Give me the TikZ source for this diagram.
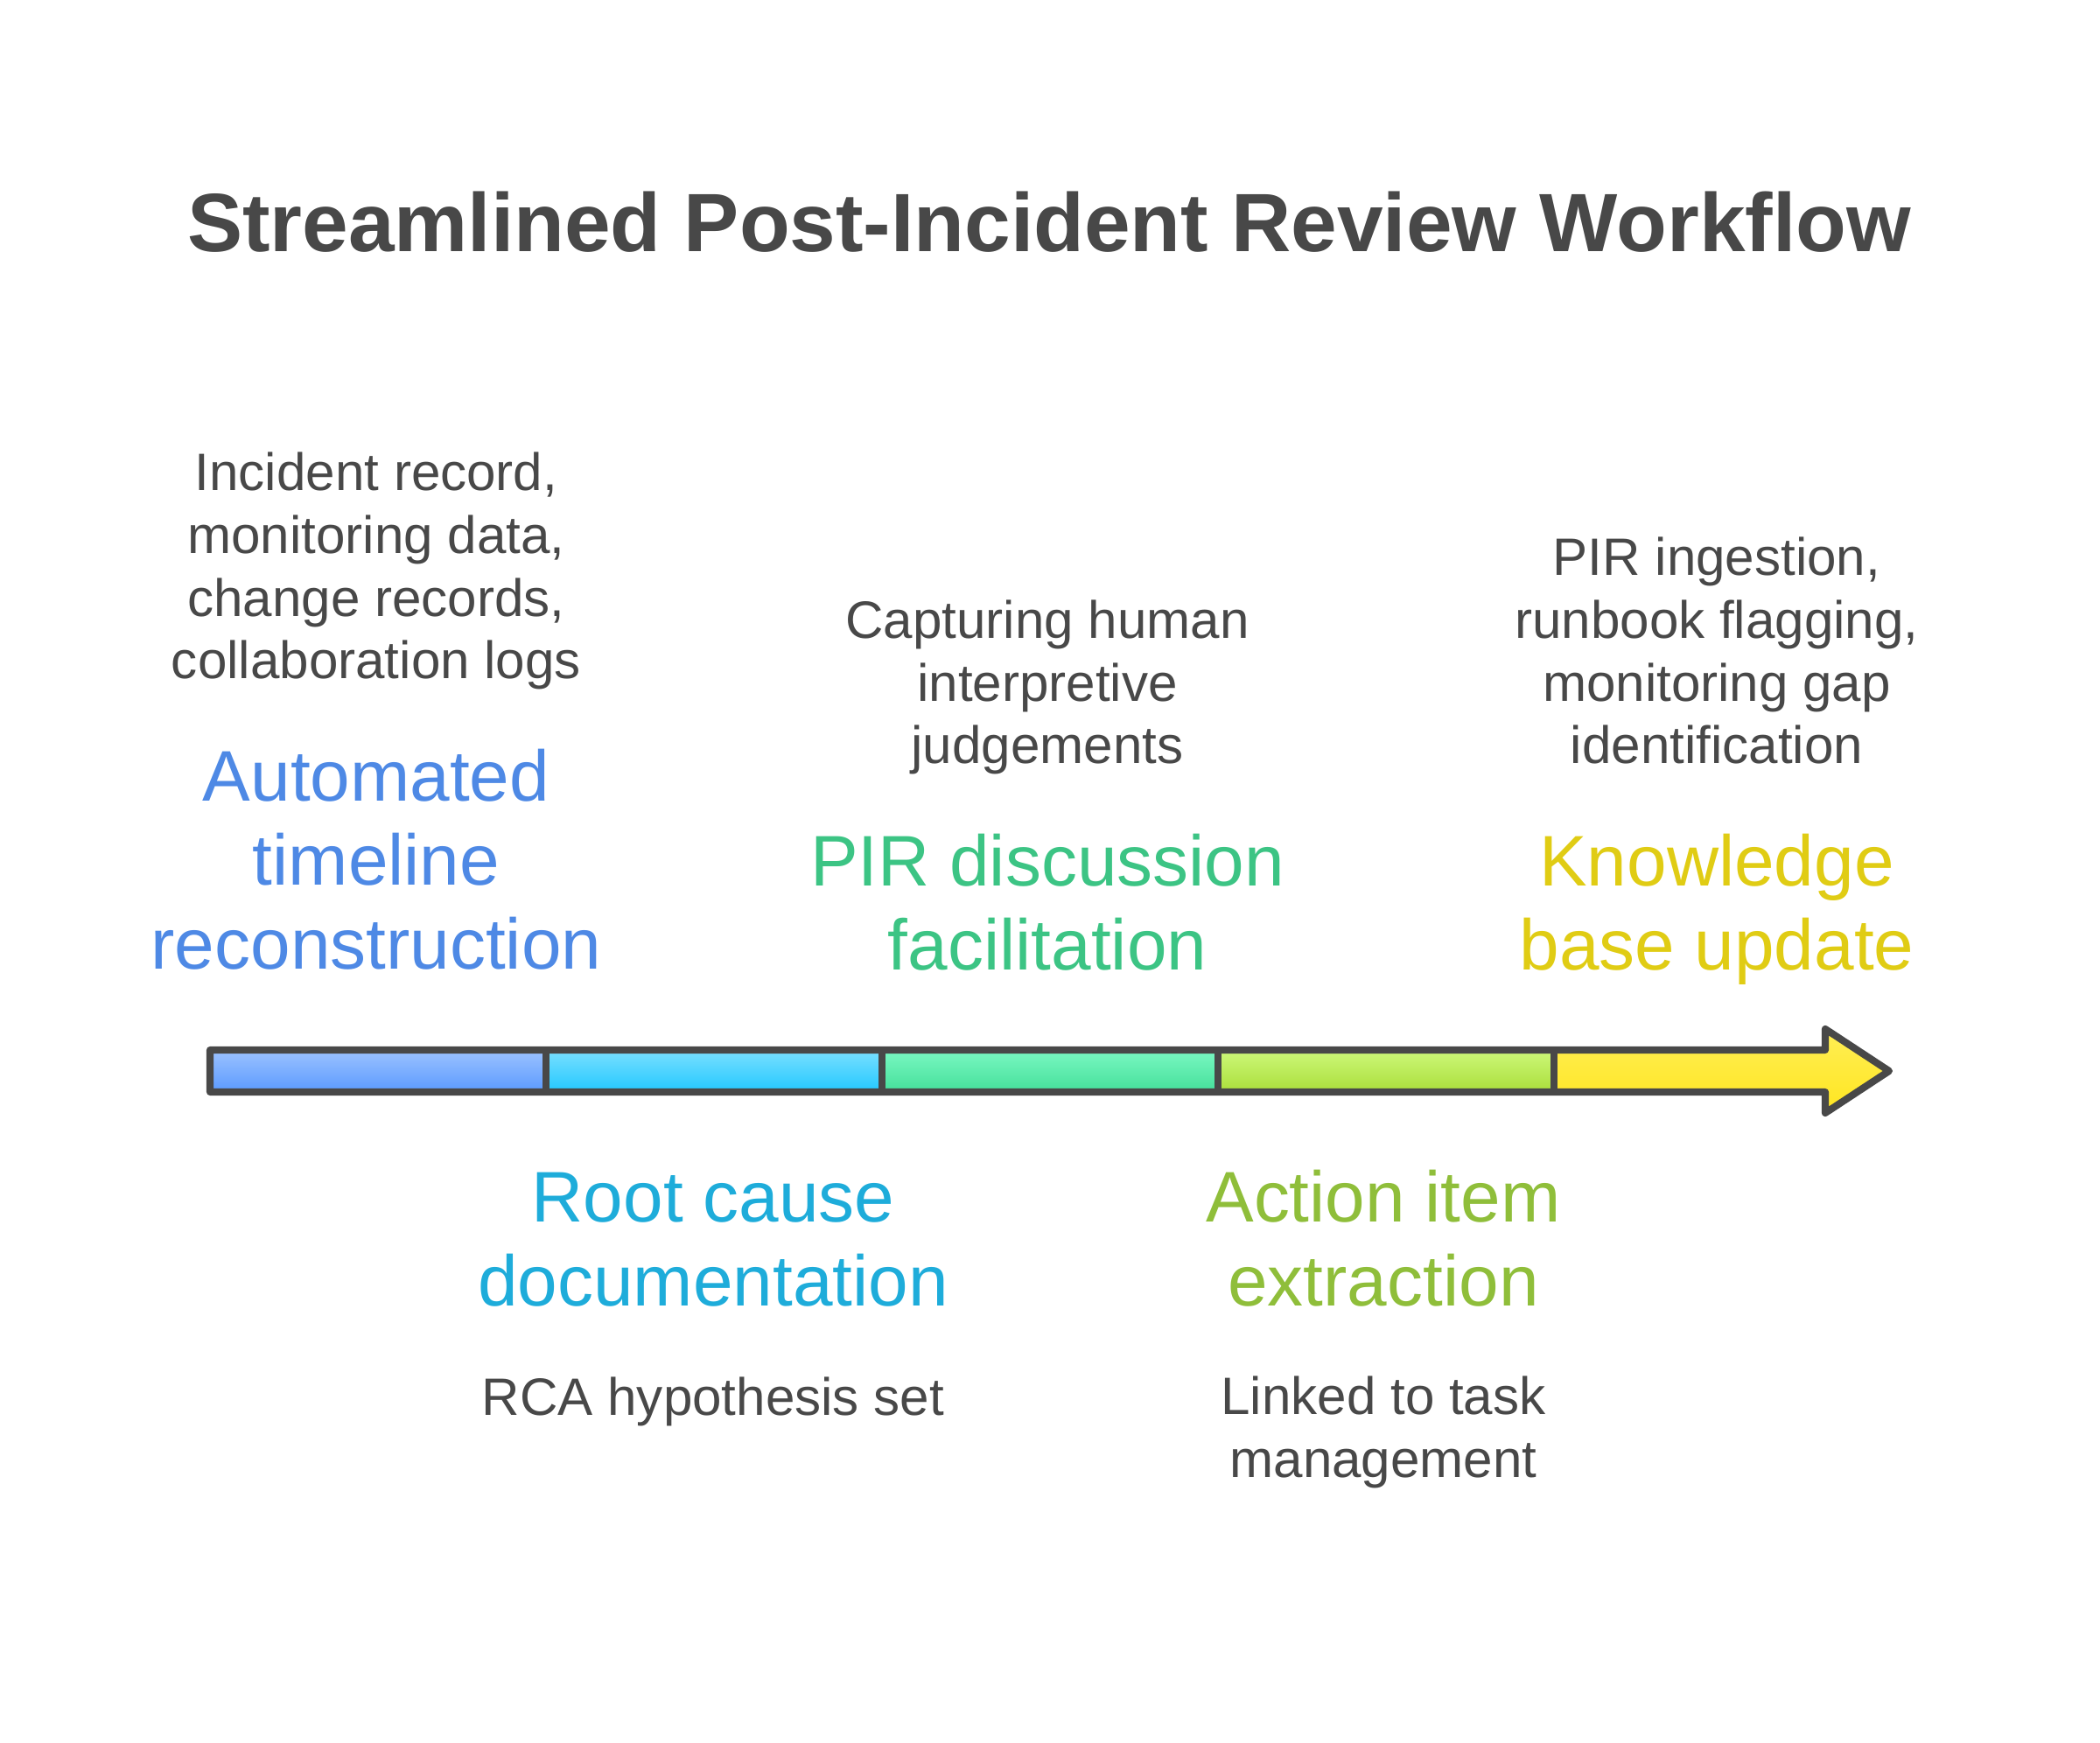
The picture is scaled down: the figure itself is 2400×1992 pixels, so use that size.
\documentclass[tikz,border=0pt]{standalone}
\usepackage{fontspec}
\setmainfont{Liberation Sans}
\usepackage{xcolor}
\usepackage{tikz}

\definecolor{inkgray}{HTML}{484848}
\definecolor{stageblue}{HTML}{4E89E5}
\definecolor{stagecyan}{HTML}{1EACDA}
\definecolor{stagegreen}{HTML}{3CC484}
\definecolor{stagelime}{HTML}{8FBE3A}
\definecolor{stageyellow}{HTML}{E0CC14}
\definecolor{segAtop}{HTML}{9CC2FF}
\definecolor{segAbot}{HTML}{5A9AFF}
\definecolor{segBtop}{HTML}{7ADFFF}
\definecolor{segBbot}{HTML}{22C8FF}
\definecolor{segCtop}{HTML}{7AF8C2}
\definecolor{segCbot}{HTML}{44DF9A}
\definecolor{segDtop}{HTML}{CDF87A}
\definecolor{segDbot}{HTML}{AADE3A}
\definecolor{segEtop}{HTML}{FFEE55}
\definecolor{segEbot}{HTML}{FFE620}

\tikzset{
  desc/.style={anchor=base, align=center, inner sep=0pt, text=inkgray,
    font=\fontsize{17.1}{20.4}\selectfont},
  stage/.style={anchor=base, align=center, inner sep=0pt,
    font=\fontsize{23.3}{27.2}\selectfont},
  barline/.style={draw=inkgray, line width=2.3pt, line join=round}
}

\begin{document}
\begin{tikzpicture}[x=0.01cm, y=-0.01cm]
  \useasboundingbox (0,0) rectangle (2400,1992);
  \node[anchor=base, inner sep=0pt, text=inkgray, font=\fontsize{26.9}{32}\selectfont\bfseries]
    (title) at (1199,288) {Streamlined Post-Incident Review Workflow};

  \foreach \i/\ct/\cb in {0/segAtop/segAbot, 1/segBtop/segBbot, 2/segCtop/segCbot, 3/segDtop/segDbot}
  	{\shade[top color=\ct, bottom color=\cb] (240+384*\i,1200) rectangle ++(384,48);}
  \shade[top color=segEtop, bottom color=segEbot] (1776,1200) -- (2086,1200) -- (2086,1176)
    -- (2159,1224) -- (2086,1272) -- (2086,1248) -- (1776,1248) -- cycle;
  \draw[barline] (240,1200) -- (2086,1200) -- (2086,1176) -- (2159,1224)
    -- (2086,1272) -- (2086,1248) -- (240,1248) -- cycle;
  \foreach \x in {624,1008,1392,1776}
  	{\draw[barline] (\x,1200) -- (\x,1248);}

  \node[desc] (timelinein) at (430,776) {Incident record,\\monitoring data,\\change records,\\collaboration logs};
  \node[stage, text=stageblue] (timeline) at (430,1107) {Automated\\timeline\\reconstruction};

  \node[stage, text=stagecyan] (rootcause) at (815,1492) {Root cause\\documentation};
  \node[desc] (rootcauseout) at (815,1617) {RCA hypothesis set};

  \node[desc] (discussionin) at (1197,873) {Capturing human\\interpretive\\judgements};
  \node[stage, text=stagegreen] (discussion) at (1197,1108) {PIR discussion\\facilitation};

  \node[stage, text=stagelime] (actions) at (1581,1492) {Action item\\extraction};
  \node[desc] (actionsout) at (1581,1688) {Linked to task\\management};

  \node[desc] (kbupdatein) at (1962,873) {PIR ingestion,\\runbook flagging,\\monitoring gap\\identification};
  \node[stage, text=stageyellow] (kbupdate) at (1962,1108) {Knowledge\\base update};
\end{tikzpicture}
\end{document}
